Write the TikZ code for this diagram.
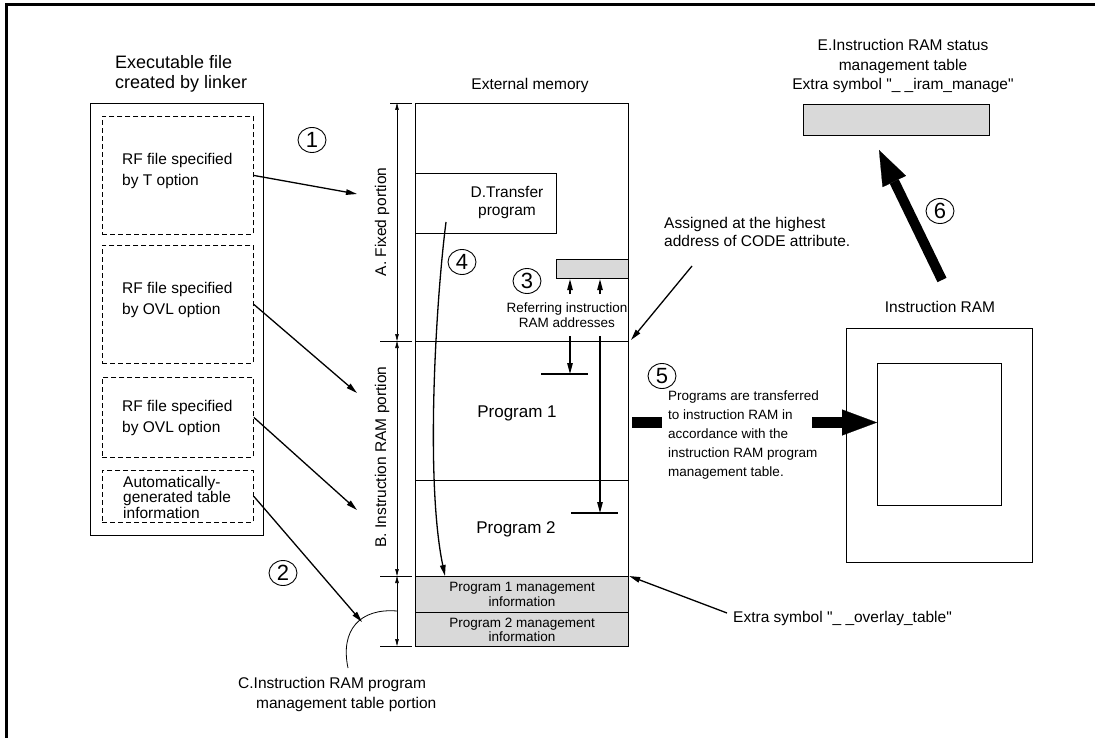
\documentclass[tikz,border=0pt]{standalone}
\usepackage{fontspec}
\setmainfont{Liberation Sans}[Ligatures=TeXOff]
\usetikzlibrary{arrows.meta,shapes.geometric}

\tikzset{
  frame/.style={draw, line width=1.2pt, inner sep=0pt, anchor=north west},
  dashbox/.style={draw, line width=0.9pt, dash pattern=on 5pt off 3pt, inner sep=0pt, anchor=north west},
  shaded/.style={frame, fill=black!15},
  lbl/.style={font=\fontsize{15.5}{20}\selectfont, align=center, inner sep=0pt},
  small/.style={font=\fontsize{13.5}{15}\selectfont, align=center, inner sep=0pt},
  num/.style={draw, ellipse, line width=0.9pt, minimum width=28pt, minimum height=25pt,
              inner sep=0pt, font=\fontsize{22}{22}\selectfont},
  link/.style={line width=1.3pt, -{Triangle[length=11pt,width=5.5pt]}},
  bar/.style={line width=1.6pt},
  dim/.style={line width=0.6pt, {Triangle[length=7pt,width=3.5pt]}-{Triangle[length=7pt,width=3.5pt]}},
  ext/.style={line width=0.6pt},
  fat/.style={-{Triangle[length=35pt,width=26pt,line width=0.2pt]}}
}

\begin{document}
\begin{tikzpicture}[x=1pt,y=-1pt]
\useasboundingbox (0,0) rectangle (1095,738);

% page rules along the top and left edges
\draw[line width=3pt] (6,738) -- (6,5) -- (1095,5);

% ---------------- executable file ----------------
\node[lbl, align=left, anchor=west, font=\fontsize{18}{20}\selectfont] (exetitle) at (115,74) {Executable file\\created by linker};
\node[frame, minimum width=173pt, minimum height=432pt] (exe) at (90,103) {};
\node[dashbox, minimum width=151pt, minimum height=118pt] (rf1) at (102,116) {};
\node[dashbox, minimum width=151pt, minimum height=118pt] (rf2) at (102,245) {};
\node[dashbox, minimum width=151pt, minimum height=80pt]  (rf3) at (102,377) {};
\node[dashbox, minimum width=151pt, minimum height=52pt]  (rf4) at (102,470) {};
\node[lbl, align=left, anchor=west, font=\fontsize{15.5}{21.5}\selectfont] (rf1t) at (122,171) {RF file specified\\by T option};
\node[lbl, align=left, anchor=west, font=\fontsize{15.5}{20.5}\selectfont] (rf2t) at (122,300) {RF file specified\\by OVL option};
\node[lbl, align=left, anchor=west, font=\fontsize{15.5}{20.5}\selectfont] (rf3t) at (122,418) {RF file specified\\by OVL option};
\node[lbl, align=left, anchor=west, font=\fontsize{15.5}{15.5}\selectfont] (rf4t) at (123,497) {Automatically-\\generated table\\information};

% ---------------- external memory ----------------
\node[lbl] (memtitle) at (530,85) {External memory};
\node[frame, minimum width=213pt, minimum height=238pt] (secA)  at (415,103) {};
\node[frame, minimum width=213pt, minimum height=139pt] (prog1) at (415,341) {};
\node[frame, minimum width=213pt, minimum height=96pt]  (prog2) at (415,480) {};
\node[shaded, minimum width=213pt, minimum height=36pt, align=center,
      font=\fontsize{13.5}{14.5}\selectfont] (mg1) at (415,576) {Program 1 management\\information};
\node[shaded, minimum width=213pt, minimum height=34pt, align=center,
      font=\fontsize{13.5}{14.5}\selectfont] (mg2) at (415,612) {Program 2 management\\information};
\node[lbl, font=\fontsize{17}{20}\selectfont] (p1t) at (517,413) {Program 1};
\node[lbl, font=\fontsize{17}{20}\selectfont] (p2t) at (516,529) {Program 2};

\node[frame, minimum width=141pt, minimum height=60pt] (dtp) at (415,173) {};
\node[lbl, font=\fontsize{15.5}{18}\selectfont] (dtpt) at (507,203) {D.Transfer\\program};
\node[shaded, minimum width=72pt, minimum height=19pt] (iaddr) at (556,259) {};

% dimension lines for the three portions
\coordinate (dA) at (397,103);
\coordinate (dB) at (397,341);
\coordinate (dC) at (397,576);
\coordinate (dD) at (397,646);
\draw[ext] (390,103) -- (412,103);
\draw[ext] (380,341) -- (412,341);
\draw[ext] (380,576) -- (412,576);
\draw[ext] (380,646) -- (412,646);
\draw[dim] (dA) -- (dB);
\draw[dim] (dB) -- (dC);
\draw[dim] (dC) -- (dD);
\node[lbl, rotate=90] (lblA) at (382,222) {A. Fixed portion};
\node[lbl, rotate=90] (lblB) at (382,457) {B. Instruction RAM portion};

% region C arc leaving the dimension line, and its caption
\coordinate (arcC) at (397,611);
\draw[line width=0.8pt] (arcC) .. controls (360,608) and (340,630) .. (348,668);
\node[lbl, align=left, anchor=west] (lblC) at (238,694)
  {C.Instruction RAM program\\\hspace*{18pt}management table portion};

% step numbers
\node[num] (n1) at (312,140) {1};
\node[num] (n2) at (283,573) {2};
\node[num] (n3) at (527,281) {3};
\node[num] (n4) at (462,262) {4};
\node[num] (n5) at (662,376) {5};
\node[num] (n6) at (940,211) {6};

% linker output placed into memory
\coordinate (t1) at (357,194);
\coordinate (t2) at (357,393);
\coordinate (t3) at (357,510);
\coordinate (t4) at (362,622);
\draw[link] (rf1.east) -- (t1);
\draw[link] (rf2.east) -- (t2);
\draw[link] (rf3.east) -- (t3);
\draw[link] (rf4.east) -- (t4);

% references to instruction RAM addresses
\node[small] (reftxt) at (567,315) {Referring instruction\\RAM addresses};
\coordinate (u1) at (570,294);
\coordinate (u2) at (600,294);
\draw[link] (u1) -- (u1 |- iaddr.south);
\draw[link] (u2) -- (u2 |- iaddr.south);
\coordinate (d1a) at (570,336);
\coordinate (d1b) at (570,374);
\coordinate (d2a) at (600,336);
\coordinate (d2b) at (600,513);
\draw[link] (d1a) -- (d1b);
\draw[link] (d2a) -- (d2b);
\draw[bar] (541,374) -- (588,374);
\draw[bar] (571,513) -- (618,513);

% transfer program reads the management table
\coordinate (c4a) at (446,222);
\coordinate (c4b) at (445,576);
\draw[link] (c4a) .. controls (436,300) and (425,480) .. (c4b);

% annotations on the right of memory
\node[lbl, align=left, anchor=west, font=\fontsize{15.5}{18}\selectfont] (assign) at (664,232)
  {Assigned at the highest\\address of CODE attribute.};
\coordinate (as0) at (692,266);
\coordinate (as1) at (631,340);
\draw[link] (as0) -- (as1);
\node[lbl, anchor=west] (ovl) at (733,618) {Extra symbol "\_ \_overlay\_table"};
\coordinate (ov0) at (727,613);
\draw[link] (ov0) -- (mg1.north east);

% transfer to instruction RAM
\node[lbl] (ramtitle) at (940,307) {Instruction RAM};
\node[frame, minimum width=186pt, minimum height=234pt] (ram) at (846,328) {};
\node[frame, minimum width=124pt, minimum height=142pt] (ramin) at (877,363) {};
\fill (632,417) rectangle (662,428);
\node[small, align=left, anchor=west, font=\fontsize{13.5}{19}\selectfont] (xfer) at (668,435)
  {Programs are transferred\\to instruction RAM in\\accordance with the\\instruction RAM program\\management table.};
\coordinate (f5) at (812,422.5);
\draw[fat, line width=11pt] (f5) -- (ramin.west |- f5);

% instruction RAM status management table
\node[lbl, font=\fontsize{15.5}{19.5}\selectfont] (etitle) at (903,66)
  {E.Instruction RAM status\\management table\\Extra symbol "\_ \_iram\_manage"};
\node[shaded, minimum width=186pt, minimum height=31pt] (ebox) at (803,104) {};
\coordinate (f6a) at (942,280);
\coordinate (f6b) at (879,150);
\draw[fat, line width=10pt] (f6a) -- (f6b);
\end{tikzpicture}
\end{document}
